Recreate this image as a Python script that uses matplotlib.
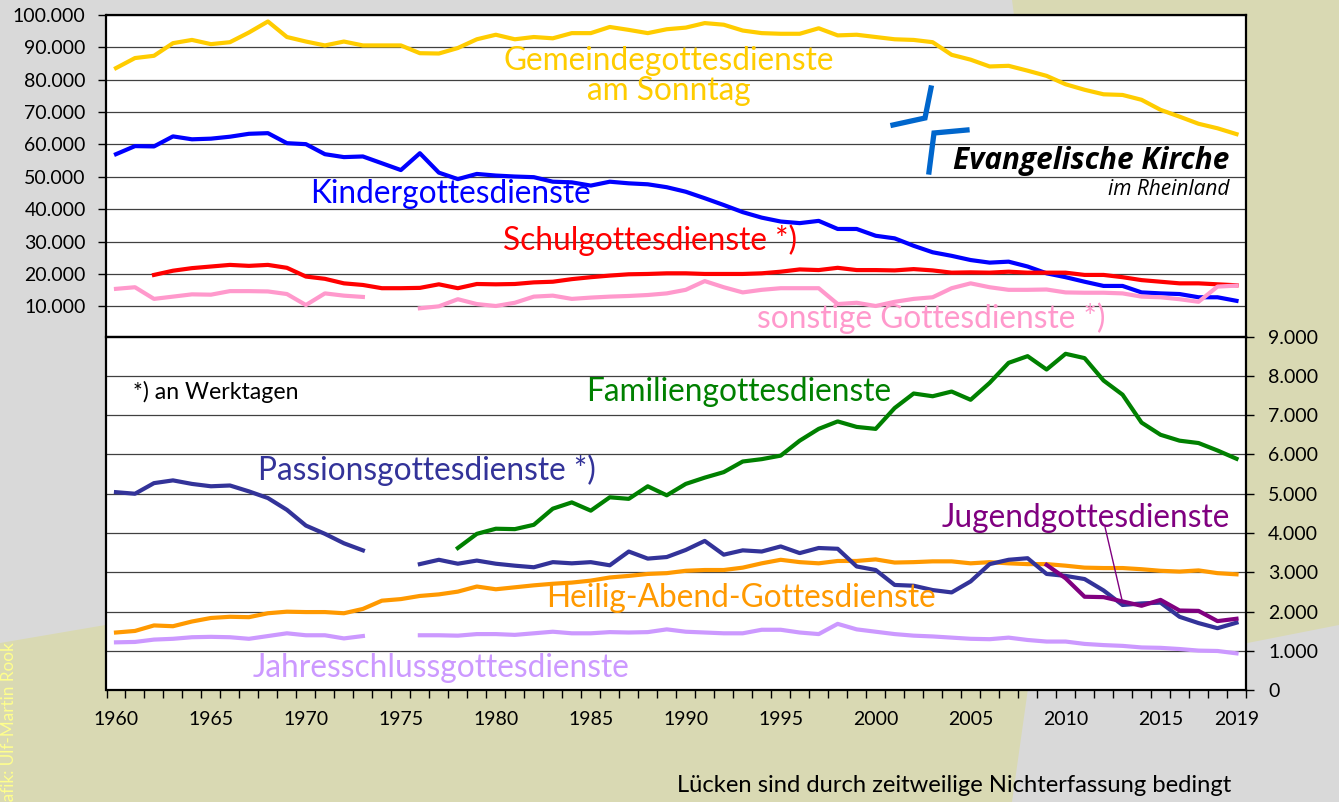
import numpy as np
import matplotlib
matplotlib.use("Agg")
import matplotlib.pyplot as plt
from matplotlib.patches import Polygon
from matplotlib.lines import Line2D

plt.rcParams['font.family'] = ['Lato', 'DejaVu Sans']

W, H = 1339, 802
nan = np.nan
years = np.arange(1960, 2020)

gemeinde = [83600, 86700, 87400, 91300, 92300, 91000, 91600, 94600, 98000, 93200,
            91800, 90600, 91800, 90600, 90600, 90600, 88200, 88100, 89800, 92500,
            93900, 92500, 93200, 92800, 94400, 94400, 96300, 95400, 94400, 95600,
            96100, 97500, 97000, 95200, 94400, 94200, 94200, 95900, 93700, 93900,
            93200, 92500, 92300, 91600, 87700, 86200, 84100, 84300, 82800, 81200,
            78600, 76900, 75500, 75300, 73800, 70700, 68600, 66400, 65000, 63200]
kinder = [57000, 59500, 59400, 62500, 61600, 61800, 62400, 63300, 63500, 60400,
          60100, 57000, 56100, 56300, 54200, 52100, 57300, 51300, 49300, 50900,
          50400, 50100, 49900, 48500, 48300, 47300, 48500, 48000, 47700, 46800,
          45400, 43400, 41300, 39100, 37400, 36200, 35700, 36400, 33900, 33900,
          31800, 31000, 28700, 26700, 25600, 24300, 23500, 23800, 22300, 20200,
          19000, 17600, 16300, 16300, 14300, 14000, 13800, 12800, 12800, 11700]
schul = [nan, nan, 19700, 21000, 21800, 22300, 22800, 22500, 22800, 21900,
         19200, 18500, 17100, 16600, 15600, 15600, 15700, 16800, 15600, 16900,
         16800, 16900, 17400, 17600, 18400, 19000, 19500, 19900, 20000, 20200,
         20200, 20000, 20000, 20000, 20200, 20700, 21400, 21200, 21900, 21200,
         21200, 21100, 21500, 21100, 20400, 20500, 20400, 20700, 20400, 20400,
         20400, 19700, 19700, 19000, 18100, 17600, 17100, 17100, 16800, 16500]
sonstige = [15400, 15900, 12300, 13000, 13700, 13600, 14700, 14700, 14600, 13800,
            10400, 14000, 13300, 12900, nan, nan, 9400, 10000, 12200, 10700,
            10100, 11100, 13000, 13300, 12300, 12700, 13000, 13200, 13500, 14000,
            15100, 17800, 15900, 14300, 15100, 15600, 15600, 15600, 10700, 11100,
            10100, 11400, 12300, 12800, 15600, 17100, 15900, 15100, 15100, 15200,
            14300, 14200, 14200, 14000, 13000, 12800, 12200, 11400, 16100, 16400]

familien = [nan] * 18 + [3620, 3980,
            4110, 4100, 4210, 4620, 4780, 4570, 4910, 4870, 5190, 4960,
            5250, 5410, 5550, 5820, 5880, 5970, 6350, 6650, 6840, 6700,
            6650, 7180, 7550, 7480, 7600, 7390, 7820, 8330, 8500, 8160,
            8560, 8450, 7880, 7520, 6810, 6500, 6350, 6290, 6100, 5890]
passion = [5040, 5000, 5270, 5340, 5250, 5190, 5210, 5060, 4890, 4590,
           4190, 3980, 3740, 3560, nan, nan, 3210, 3320, 3220, 3300,
           3220, 3170, 3130, 3260, 3230, 3260, 3180, 3530, 3350, 3390,
           3570, 3800, 3450, 3560, 3530, 3660, 3490, 3620, 3600, 3150,
           3060, 2680, 2660, 2550, 2490, 2770, 3210, 3320, 3360, 2960,
           2910, 2830, 2540, 2170, 2210, 2230, 1870, 1710, 1580, 1720]
jugend = [nan] * 49 + [3190, 2850, 2380, 2370, 2260, 2150, 2300, 2030, 2020, 1760, 1820]
heiligabend = [1470, 1510, 1650, 1630, 1750, 1840, 1870, 1860, 1960, 2000,
               1990, 1990, 1960, 2070, 2280, 2320, 2400, 2440, 2510, 2640,
               2570, 2620, 2670, 2710, 2740, 2790, 2870, 2910, 2960, 2980,
               3040, 3060, 3060, 3120, 3230, 3320, 3260, 3230, 3290, 3290,
               3330, 3250, 3260, 3280, 3280, 3230, 3260, 3230, 3210, 3210,
               3170, 3120, 3110, 3110, 3080, 3040, 3020, 3050, 2980, 2950]
jahresschluss = [1220, 1230, 1290, 1310, 1350, 1360, 1350, 1310, 1380, 1450,
                 1400, 1400, 1320, 1380, nan, nan, 1400, 1400, 1390, 1430,
                 1430, 1410, 1450, 1490, 1450, 1450, 1480, 1470, 1480, 1550,
                 1490, 1470, 1450, 1450, 1540, 1540, 1470, 1430, 1690, 1550,
                 1490, 1430, 1390, 1370, 1340, 1310, 1300, 1340, 1280, 1240,
                 1240, 1180, 1150, 1130, 1090, 1080, 1050, 1010, 1000, 940]

top_ticks = np.arange(10000, 100001, 10000)
bottom_ticks = np.arange(0, 9001, 1000)
year_labels = [1960, 1965, 1970, 1975, 1980, 1985, 1990, 1995, 2000, 2005, 2010, 2015, 2019]


def fx(x):
    return x / W


def fy(y):
    return 1 - y / H


def add_ax(l, t, r, b):
    return fig.add_axes([fx(l), fy(b), (r - l) / W, (b - t) / H])


def ftext(x, y, s, **kw):
    kw.setdefault('va', 'baseline')
    return fig.text(fx(x), fy(y), s, **kw)


def dots(v):
    return f"{int(v):,}".replace(",", ".")


fig = plt.figure(figsize=(W / 100, H / 100), dpi=100)
fig.patch.set_facecolor('#d9d9d9')

khaki = '#d9d9b3'
fig.add_artist(Polygon([(fx(0), fy(643)), (fx(1060), fy(462)), (fx(1012), fy(802)), (fx(0), fy(802))],
                       closed=True, transform=fig.transFigure, facecolor=khaki, edgecolor='none', zorder=-5))
fig.add_artist(Polygon([(fx(1012), fy(0)), (fx(1339), fy(0)), (fx(1339), fy(625)), (fx(1100), fy(672))],
                       closed=True, transform=fig.transFigure, facecolor=khaki, edgecolor='none', zorder=-5))

L, R = 106.5, 1246
ax1 = add_ax(L, 15, R, 336.5)
ax2 = add_ax(L, 336.5, R, 690.3)

lw = 3
ax1.plot(years, gemeinde, color='#ffcc00', lw=lw)
ax1.plot(years, kinder, color='#0000ff', lw=lw)
ax1.plot(years, schul, color='#ff0000', lw=lw)
ax1.plot(years, sonstige, color='#ff99cc', lw=lw)

ax2.plot(years, jahresschluss, color='#cc99ff', lw=lw)
ax2.plot(years, heiligabend, color='#ff9900', lw=lw)
ax2.plot(years, familien, color='#008000', lw=lw)
ax2.plot(years, passion, color='#333399', lw=lw)
ax2.plot(years, jugend, color='#800080', lw=lw)

for ax in (ax1, ax2):
    ax.set_xlim(1959.5, 2019.5)
    for s in ax.spines.values():
        s.set_linewidth(1.6)
        s.set_color('black')
    ax.set_axisbelow(True)
    ax.grid(axis='y', color='#404040', lw=0.9)

ax1.set_ylim(680, 100000)
ax1.set_yticks(top_ticks)
ax1.set_yticklabels([dots(v) for v in top_ticks])
ax1.set_xticks([])
ax1.tick_params(axis='y', direction='out', length=6, width=1, pad=9, labelsize=14)

ax2.set_ylim(0, 9000)
ax2.set_yticks(bottom_ticks)
ax2.set_yticklabels([dots(v) for v in bottom_ticks])
ax2.yaxis.tick_right()
ax2.tick_params(axis='y', direction='out', length=6, width=1, pad=10, labelsize=14)
ax2.set_xticks(year_labels)
ax2.set_xticklabels([str(y) for y in year_labels])
ax2.set_xticks(np.arange(1959.5, 2020, 1), minor=True)
ax2.tick_params(axis='x', which='major', length=0, pad=15, labelsize=14)
ax2.tick_params(axis='x', which='minor', direction='out', length=6, width=1)

fs = 22.8
ftext(669, 70, 'Gemeindegottesdienste', color='#ffcc00', fontsize=fs, ha='center')
ftext(669, 100, 'am Sonntag', color='#ffcc00', fontsize=fs, ha='center')
ftext(310, 203, 'Kindergottesdienste', color='#0000ff', fontsize=fs)
ftext(503, 250, 'Schulgottesdienste *)', color='#ff0000', fontsize=fs)
ftext(757, 328, 'sonstige Gottesdienste *)', color='#ff99cc', fontsize=fs)
ftext(133, 399, '*) an Werktagen', color='black', fontsize=16.7)
ftext(586, 401, 'Familiengottesdienste', color='#008000', fontsize=fs)
ftext(258, 480, 'Passionsgottesdienste *)', color='#333399', fontsize=fs)
ftext(942, 527, 'Jugendgottesdienste', color='#800080', fontsize=fs)
ftext(546, 607, 'Heilig-Abend-Gottesdienste', color='#ff9900', fontsize=fs)
ftext(253, 677, 'Jahresschlussgottesdienste', color='#cc99ff', fontsize=fs)
fig.add_artist(Line2D([fx(1105), fx(1122)], [fy(527), fy(600)], transform=fig.transFigure,
                      color='#800080', lw=1, zorder=4))

ftext(1229, 169, 'Evangelische Kirche', color='black', fontsize=21.4, fontweight='bold',
      fontstyle='italic', ha='right', family=['Open Sans', 'DejaVu Sans'])
ftext(1229, 195, 'im Rheinland', color='black', fontsize=15, fontstyle='italic', ha='right',
      family=['Open Sans', 'DejaVu Sans'])
logo = '#0066cc'
fig.add_artist(Line2D([fx(893), fx(925), fx(931)], [fy(125), fy(118), fy(88)], transform=fig.transFigure,
                      color=logo, lw=3.8, solid_joinstyle='miter', zorder=4))
fig.add_artist(Line2D([fx(929), fx(934), fx(967)], [fy(172), fy(133), fy(130)], transform=fig.transFigure,
                      color=logo, lw=3.8, solid_joinstyle='miter', zorder=4))

ftext(1231, 792, 'Lücken sind durch zeitweilige Nichterfassung bedingt', color='black',
      fontsize=17.1, ha='right')
fig.text(fx(9), fy(731), 'Grafik: Ulf-Martin Rook', color='#ffff8c', fontsize=12.3,
         rotation=90, ha='center', va='center')

fig.savefig('out.png', dpi=100, facecolor=fig.get_facecolor())
